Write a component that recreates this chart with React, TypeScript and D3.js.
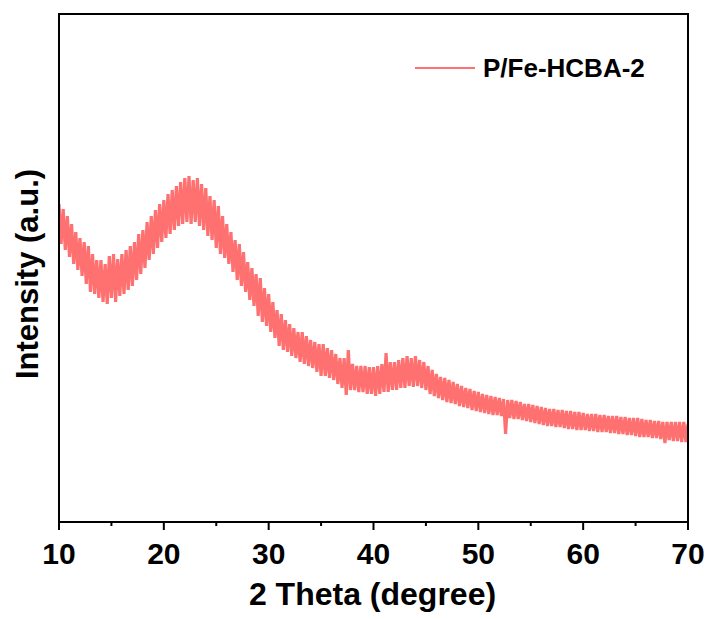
import React from "react";
import * as d3 from "d3";

// XRD pattern: 2θ from 10° to 70° in 0.2° steps, intensity in arbitrary units
const thetaStart = 10;
const thetaStep = 0.2;
const intensity: number[] = [
  318, 278, 313, 272, 306,
  265, 298, 258, 290, 252,
  284, 246, 280, 238, 276,
  230, 268, 228, 262, 224,
  262, 220, 258, 218, 266,
  224, 268, 220, 263, 226,
  268, 228, 272, 232, 276,
  236, 280, 242, 288, 248,
  292, 254, 300, 262, 306,
  268, 312, 274, 318, 280,
  322, 284, 328, 288, 332,
  292, 336, 296, 340, 298,
  344, 300, 346, 298, 342,
  300, 344, 296, 338, 292,
  334, 286, 326, 282, 322,
  274, 316, 268, 306, 264,
  298, 258, 290, 250, 282,
  242, 278, 236, 270, 230,
  260, 222, 254, 216, 248,
  206, 244, 200, 234, 196,
  228, 190, 220, 184, 212,
  176, 208, 172, 202, 170,
  198, 166, 194, 164, 190,
  160, 190, 158, 186, 156,
  182, 154, 180, 150, 178,
  146, 178, 146, 174, 144,
  172, 142, 168, 138, 164,
  134, 164, 127, 172, 132,
  158, 132, 156, 130, 156,
  130, 156, 128, 155, 128,
  155, 126, 156, 128, 158,
  130, 169, 130, 160, 132,
  160, 132, 162, 134, 164,
  134, 166, 136, 164, 135,
  166, 136, 162, 134, 160,
  132, 156, 128, 152, 126,
  148, 124, 145, 122, 144,
  120, 142, 119, 140, 118,
  138, 116, 136, 115, 134,
  114, 133, 112, 131, 111,
  130, 110, 128, 109, 127,
  108, 126, 107, 125, 107,
  124, 106, 123, 88, 122,
  104, 122, 103, 121, 103,
  120, 102, 118, 101, 118,
  100, 117, 99, 116, 98,
  115, 97, 114, 96, 113,
  96, 113, 95, 112, 95,
  112, 94, 111, 93, 111,
  93, 110, 92, 110, 92,
  109, 92, 108, 91, 108,
  91, 108, 90, 107, 90,
  107, 90, 106, 89, 106,
  89, 106, 88, 105, 88,
  105, 87, 104, 87, 104,
  86, 104, 85, 103, 85,
  102, 85, 102, 84, 101,
  84, 101, 83, 100, 79,
  100, 82, 100, 81, 100,
  81, 100, 80, 100, 80,
  98,
];

const xTicks = [10, 20, 30, 40, 50, 60, 70];
const xMinorTicks = [15, 25, 35, 45, 55, 65];
const seriesName = "P/Fe-HCBA-2";
const xTitle = "2 Theta (degree)";
const yTitle = "Intensity (a.u.)";

const W = 713;
const H = 619;
const left = 59;
const right = 688;
const top = 14;
const bottom = 522;
const color = "#FF7070";
const font = "'Liberation Sans', Arial, sans-serif";

export default function App() {
  const x = d3.scaleLinear().domain([10, 70]).range([left, right]);
  const y = d3.scaleLinear().domain([0, 508]).range([bottom, top]);
  const data = intensity.map((v, i) => ({ t: thetaStart + i * thetaStep, v }));
  const line = d3
    .line<{ t: number; v: number }>()
    .x((d) => x(d.t))
    .y((d) => y(d.v));

  return (
    <svg
      width={W}
      height={H}
      style={{ position: "absolute", left: 0, top: 0, background: "#fff" }}
      fontFamily={font}
    >
      <defs>
        <clipPath id="plotclip">
          <rect x={left} y={top} width={right - left} height={bottom - top} />
        </clipPath>
      </defs>
      <path
        d={line(data) || ""}
        fill="none"
        stroke={color}
        strokeWidth={3.2}
        strokeLinejoin="bevel"
        clipPath="url(#plotclip)"
      />
      <rect
        x={left}
        y={top}
        width={right - left}
        height={bottom - top}
        fill="none"
        stroke="#000"
        strokeWidth={2}
      />
      {xTicks.map((t) => (
        <g key={t}>
          <line x1={x(t)} x2={x(t)} y1={bottom} y2={bottom + 8} stroke="#000" strokeWidth={2} />
          <text
            x={x(t)}
            y={564}
            textAnchor="middle"
            fontSize={30}
            fontWeight="bold"
          >
            {t}
          </text>
        </g>
      ))}
      {xMinorTicks.map((t) => (
        <line key={t} x1={x(t)} x2={x(t)} y1={bottom} y2={bottom + 4} stroke="#000" strokeWidth={2} />
      ))}
      <text x={372.5} y={605} textAnchor="middle" fontSize={32} fontWeight="bold">
        {xTitle}
      </text>
      <text
        transform="translate(38,274) rotate(-90)"
        textAnchor="middle"
        fontSize={31}
        fontWeight="bold"
      >
        {yTitle}
      </text>
      <line x1={415} x2={475} y1={68} y2={68} stroke={color} strokeWidth={2} />
      <text x={483} y={77} fontSize={26} fontWeight="bold">
        {seriesName}
      </text>
    </svg>
  );
}
